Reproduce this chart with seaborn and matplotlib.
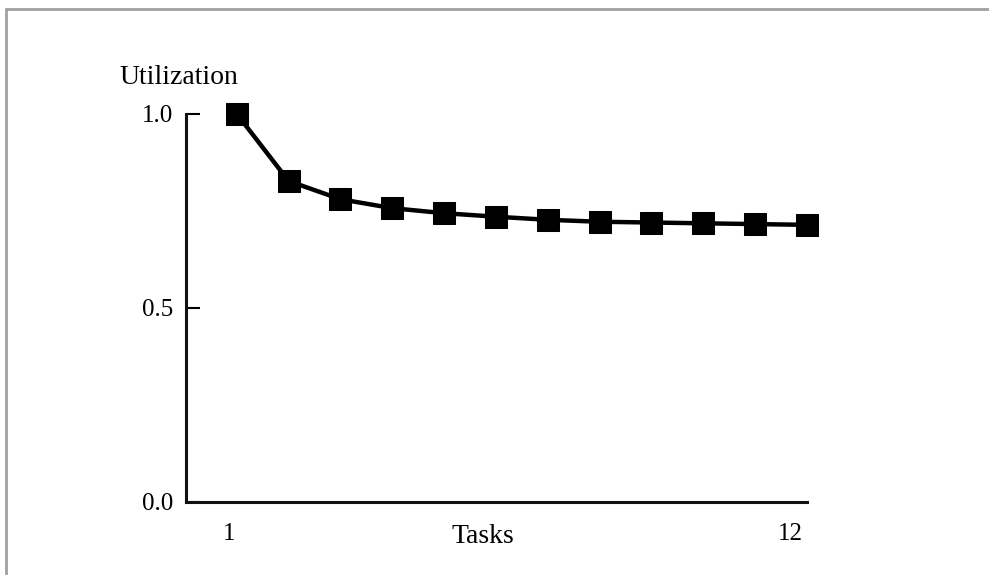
import pandas as pd
import seaborn as sns
import matplotlib.pyplot as plt
from matplotlib.lines import Line2D
from matplotlib.transforms import ScaledTranslation

# Values
tasks = [1, 2, 3, 4, 5, 6, 7, 8, 9, 10, 11, 12]
utilization = [1.0, 0.827, 0.780, 0.757, 0.744, 0.735, 0.727, 0.722, 0.720, 0.718, 0.716, 0.714]
y_ticks = [0.0, 0.5, 1.0]
y_tick_labels = ['0.0', '0.5', '1.0']
x_ticks = [1, 12]
x_tick_labels = ['1', '12']

df = pd.DataFrame({'Tasks': tasks, 'Utilization': utilization})

sns.set_style('ticks')
plt.rcParams['font.family'] = ['Liberation Serif', 'DejaVu Serif']
plt.rcParams['text.color'] = 'black'
plt.rcParams['axes.labelcolor'] = 'black'
plt.rcParams['xtick.labelcolor'] = 'black'
plt.rcParams['ytick.labelcolor'] = 'black'

fig = plt.figure(figsize=(9.89, 5.75), dpi=100)
ax = fig.add_axes([0.188, 0.127, 0.628, 0.675])

sns.lineplot(data=df, x='Tasks', y='Utilization', ax=ax, color='black',
             linewidth=3.2, marker='s', markersize=15.5, markeredgecolor='black',
             markerfacecolor='black', clip_on=False)

ax.set_xlim(0.02, 12)
ax.set_ylim(0, 1)
sns.despine(ax=ax)
for side in ['left', 'bottom']:
    ax.spines[side].set_linewidth(2.2)
    ax.spines[side].set_color('#111111')

ax.set_yticks(y_ticks)
ax.set_yticklabels(y_tick_labels)
ax.tick_params(axis='y', direction='in', length=10, width=1.5, pad=9,
               labelsize=18, color='black', labelcolor='black')
ax.set_xticks(x_ticks)
ax.set_xticklabels(x_tick_labels)
ax.tick_params(axis='x', length=0, pad=15, labelsize=18, labelcolor='black')

# shift the x tick labels slightly left like the reference
for lbl, dx in zip(ax.get_xticklabels(), [-8, -17]):
    lbl.set_transform(lbl.get_transform() + ScaledTranslation(dx / 100, 0, fig.dpi_scale_trans))

ax.set_xlabel('Tasks', fontsize=20, color='black')
ax.xaxis.set_label_coords(0.478, -0.088)
ax.xaxis.label.set_va('center')
ax.set_ylabel('Utilization', fontsize=20, rotation=0, color='black')
ax.yaxis.set_label_coords(-0.011, 1.093)
ax.yaxis.label.set_va('center')
ax.yaxis.label.set_ha('center')

# gray frame at top and left of the picture
fig.add_artist(Line2D([6 / 989, 6 / 989], [0, 1 - 9 / 575], transform=fig.transFigure,
                      color='#a0a0a0', linewidth=2))
fig.add_artist(Line2D([6 / 989, 1], [1 - 9 / 575, 1 - 9 / 575], transform=fig.transFigure,
                      color='#a0a0a0', linewidth=2))

fig.savefig('out.png', dpi=100)
